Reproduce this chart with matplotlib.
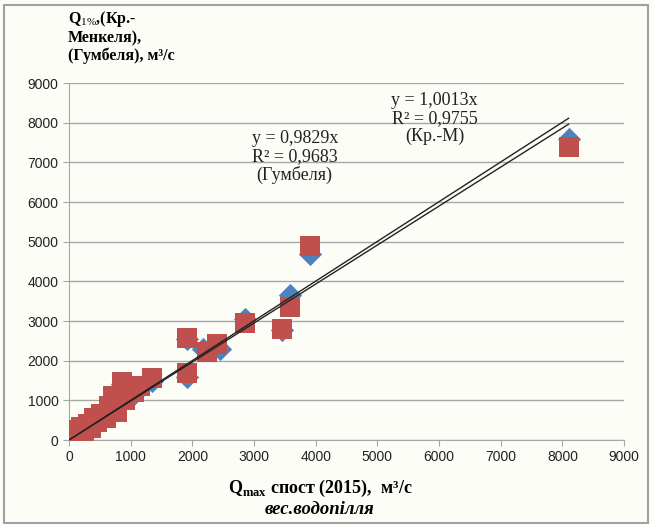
import numpy as np
import matplotlib.pyplot as plt
from matplotlib.patches import Rectangle

plt.rcParams['mathtext.fontset'] = 'custom'
plt.rcParams['mathtext.rm'] = 'Liberation Serif'
plt.rcParams['mathtext.bf'] = 'Liberation Serif:bold'

# observed max discharge (x) vs Q1% by Gumbel (red) and Kritsky-Menkel (blue)
x_gumb = [20, 40, 60, 90, 120, 150, 200, 250, 300, 350, 400, 450, 520, 600, 650,
          720, 780, 860, 900, 1050, 1150, 1350, 1920, 1920, 2240, 2400, 2850, 3460,
          3590, 3900, 8100]
y_gumb = [30, 120, 200, 60, 250, 150, 320, 200, 400, 300, 550, 450, 650, 550, 850,
          1100, 700, 1450, 1000, 1200, 1350, 1560, 2570, 1690, 2220, 2420, 2950, 2800,
          3350, 4890, 7380]
x_krm = [20, 60, 120, 200, 300, 400, 520, 650, 720, 860, 1050, 1150, 1350, 1920, 1920,
         2180, 2450, 2860, 3460, 3590, 3900, 8100]
y_krm = [40, 180, 230, 300, 380, 520, 600, 800, 1050, 1400, 1150, 1300, 1500, 2550, 1600,
         2300, 2300, 3050, 2780, 3650, 4680, 7600]

k_gumb, r2_gumb = '0,9829', '0,9683'
k_krm, r2_krm = '1,0013', '0,9755'

bg = '#fdfdf7'
fig = plt.figure(figsize=(6.53, 5.24), dpi=100, facecolor=bg)
fig.patches.append(Rectangle((0.006, 0.002), 0.986, 0.988, transform=fig.transFigure,
                             fill=False, edgecolor='#a0a0a0', lw=1.5))
ax = fig.add_axes([0.1057, 0.1603, 0.85, 0.6813])
ax.set_facecolor(bg)

ax.scatter(x_krm, y_krm, marker='D', s=140, color='#4f81bd', zorder=3, linewidths=0)
ax.scatter(x_gumb, y_gumb, marker='s', s=215, color='#c0504d', zorder=4, linewidths=0)

xl = np.array([0, 8100])
ax.plot(xl, float(k_krm.replace(',', '.')) * xl, color='#222222', lw=1, zorder=5)
ax.plot(xl, float(k_gumb.replace(',', '.')) * xl, color='#222222', lw=1, zorder=5)

ax.set_xlim(0, 9000)
ax.set_ylim(0, 9000)
ax.set_xticks(range(0, 9001, 1000))
ax.set_yticks(range(0, 9001, 1000))
ax.yaxis.grid(True, color='#a6a6a6', lw=1)
ax.set_axisbelow(True)
for s in ['top', 'right']:
    ax.spines[s].set_visible(False)
for s in ['left', 'bottom']:
    ax.spines[s].set_color('#a6a6a6')
ax.tick_params(colors='#a6a6a6', length=4, labelcolor='#222222', labelsize=10)
for lab in ax.get_xticklabels() + ax.get_yticklabels():
    lab.set_family('Liberation Sans')

serif = 'Liberation Serif'
ax.text(5930, 8110, 'y = %sx\nR² = %s\n(Кр.-М)' % (k_krm, r2_krm),
        ha='center', va='center', family=serif, fontsize=13, linespacing=1.05, color='#222222')
ax.text(3660, 7130, 'y = %sx\nR² = %s\n(Гумбеля)' % (k_gumb, r2_gumb),
        ha='center', va='center', family=serif, fontsize=13, linespacing=1.05, color='#222222')

fig.text(0.104, 0.982, 'Q$_{\\mathrm{1\\%}}$,(Кр.-\nМенкеля),\n(Гумбеля), м³/с', ha='left', va='top',
         family=serif, fontweight='bold', fontsize=11.5, linespacing=1.1)
fig.text(0.49, 0.068, 'Q$_{\\mathbf{max}}$ спост (2015),  м³/с', ha='center', va='center',
         family=serif, fontweight='bold', fontsize=13)
fig.text(0.49, 0.028, 'вес.водопілля', ha='center', va='center',
         family=serif, fontweight='bold', style='italic', fontsize=13.5)

fig.savefig('out.png', dpi=100, facecolor=bg)
